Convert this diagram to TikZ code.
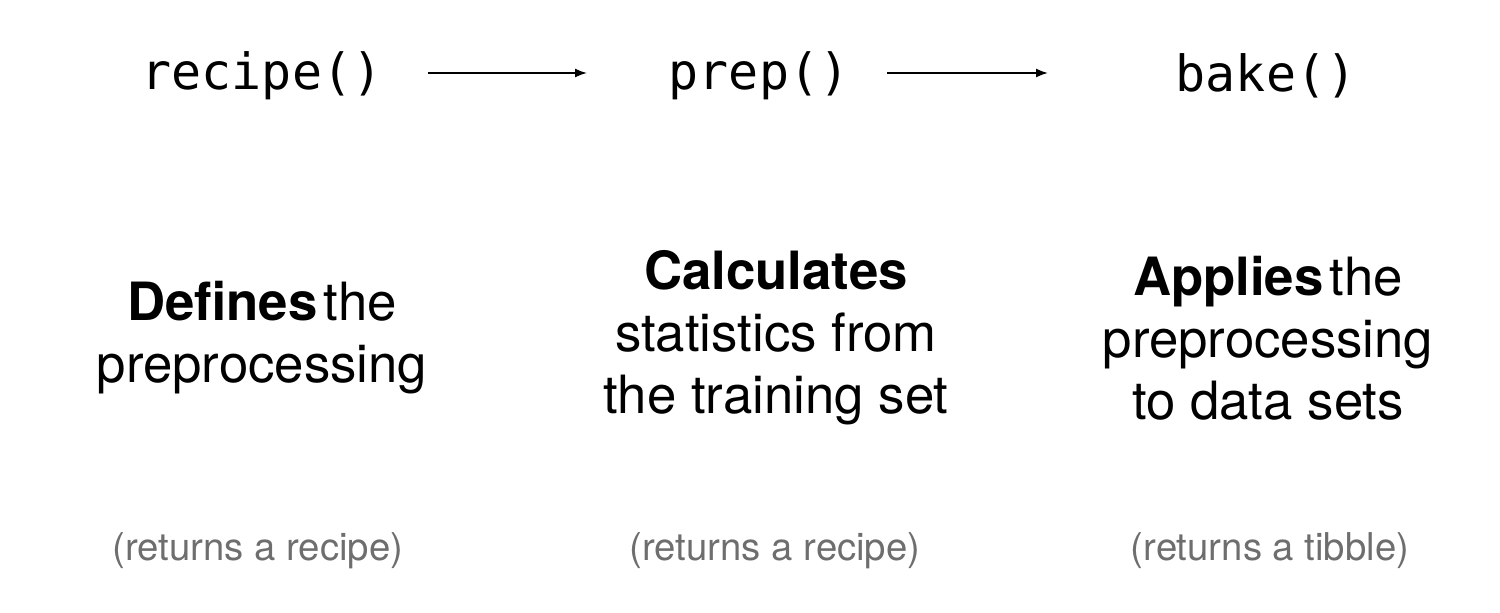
\documentclass[tikz,border=0pt]{standalone}
\usepackage{fontspec}
\setmainfont{TeX Gyre Heros}
\setmonofont{DejaVu Sans Mono}
\usetikzlibrary{arrows.meta}
\definecolor{retgray}{HTML}{6E6E6E}
\tikzset{
  px/.style={x=0.01cm,y=-0.01cm},
  fn/.style={inner sep=0pt, font=\ttfamily\fontsize{14.2}{16}\selectfont},
  desc/.style={inner sep=0pt, align=center, font=\fontsize{15}{17.6}\selectfont},
  ret/.style={inner sep=0pt, text=retgray, font=\fontsize{10.9}{13}\selectfont},
  flow/.style={line width=0.5pt, -{Latex[length=0.12cm,width=0.09cm]}}
}
\begin{document}
\begin{tikzpicture}[px]
\useasboundingbox (0,0) rectangle (1500,612);
\node[fn] (recipe) at (262,76) {recipe()};
\node[fn] (prep) at (759,76) {prep()};
\node[fn] (bake) at (1266,76) {bake()};
\draw[flow, shorten <=0.45cm, shorten >=0.81cm] ([yshift=0.03cm]recipe.east) -- ([yshift=0.03cm]prep.west);
\draw[flow, shorten <=0.37cm, shorten >=1.27cm] ([yshift=0.03cm]prep.east) -- ([yshift=0.03cm]bake.west);
\node[desc] (d1) at (262,338) {\textbf{Defines}\hspace{0.12em}the\\preprocessing};
\node[desc] (d2) at (776,338) {\textbf{Calculates}\\statistics from\\the training set};
\node[desc] (d3) at (1268,338) {\textbf{Applies}\hspace{0.12em}the\\preprocessing\\to data sets};
\node[ret] (r1) at (258,551) {(returns a recipe)};
\node[ret] (r2) at (775,551) {(returns a recipe)};
\node[ret] (r3) at (1270,551) {(returns a tibble)};
\end{tikzpicture}
\end{document}
